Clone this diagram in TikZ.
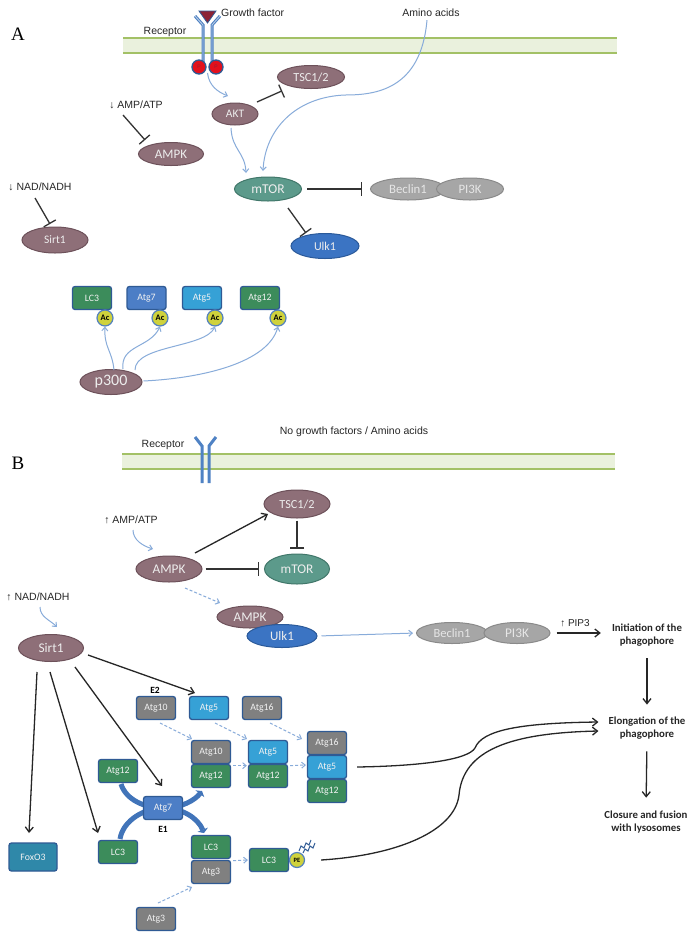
\documentclass[tikz,border=0pt]{standalone}
\usepackage{fontspec}
\setmainfont{Carlito}
\newfontfamily\arial{Liberation Sans}
\newfontfamily\tnr{Liberation Serif}
\usetikzlibrary{shapes.geometric,arrows.meta,calc}
\pgfdeclarelayer{bg}
\pgfdeclarelayer{paper}
\pgfsetlayers{paper,bg,main}
\newcommand\fsz[1]{\fontsize{#1}{#1}\selectfont}
\definecolor{mauveF}{HTML}{8E6F78}
\definecolor{mauveD}{HTML}{6D515A}
\definecolor{tealF}{HTML}{5C9A8B}
\definecolor{tealD}{HTML}{41776A}
\definecolor{ulkF}{HTML}{3B74C3}
\definecolor{ulkD}{HTML}{2B5A9A}
\definecolor{gyF}{HTML}{A6A6A6}
\definecolor{gyD}{HTML}{8A8A8A}
\definecolor{gyT}{HTML}{E6E6E6}
\definecolor{grn}{HTML}{3C8C5B}
\definecolor{blu}{HTML}{4C7EC6}
\definecolor{lblu}{HTML}{36A1D6}
\definecolor{gry}{HTML}{808080}
\definecolor{fox}{HTML}{2F88A9}
\definecolor{boxD}{HTML}{2F5A94}
\definecolor{acF}{HTML}{CFD23C}
\definecolor{acD}{HTML}{5381BE}
\definecolor{bluel}{HTML}{88ACDA}
\definecolor{thick}{HTML}{4174B9}
\definecolor{memF}{HTML}{EAF1DD}
\definecolor{memL}{HTML}{A3C166}
\definecolor{recC}{HTML}{4F82C4}
\definecolor{gfF}{HTML}{8C2336}
\definecolor{pF}{HTML}{E3101C}
\definecolor{txt}{HTML}{262626}
\begin{document}
\begin{tikzpicture}[x=1pt,y=-1pt,
  ell/.style={ellipse, inner sep=0pt, line width=1pt, text=white!93!black},
  mv/.style={ell, fill=mauveF, draw=mauveD},
  tl/.style={ell, fill=tealF, draw=tealD},
  ul/.style={ell, fill=ulkF, draw=ulkD},
  gy/.style={ell, fill=gyF, draw=gyD, text=gyT},
  bx/.style={rectangle, rounded corners=2.5pt, draw=boxD, line width=1.3pt, minimum width=39pt, minimum height=23pt, inner sep=0pt, text=white!95!black, font=\fsz{9.8}, fill=#1},
  acc/.style={circle, fill=acF, draw=acD, line width=1.2pt, minimum size=16pt, inner sep=0pt, font=\bfseries\fsz{8.5}, text=black},
  lbl/.style={font=\arial\fsz{10.5}, text=txt, inner sep=0pt},
  bl/.style={font=\bfseries\fontsize{10.8}{13}\selectfont, text=txt, align=center, inner sep=0pt},
  el/.style={font=\bfseries\fsz{9.5}, text=black, inner sep=0pt},
  inh/.style={line width=1.3pt, draw=black!80, -{Bar[width=14pt,line width=1.3pt]}},
  act/.style={line width=1.3pt, draw=black!85, -{Straight Barb[length=5pt,width=8pt]}},
  bar/.style={draw=bluel, line width=1pt, -{Straight Barb[length=3.5pt,width=6pt]}},
  dsh/.style={bar, dash pattern=on 3pt off 2pt},
  thk/.style={draw=thick, line width=5pt, -{Triangle[length=3.5pt,width=11pt]}},
  pc/.style={circle, fill=pF, draw=boxD, line width=1.3pt, minimum size=14pt, inner sep=0pt, font=\arial\fsz{5}, text=gfF}
]
\useasboundingbox (0,0) rectangle (693,938);
\begin{pgfonlayer}{paper}
\fill[white] (0,0) rectangle (693,938);
\end{pgfonlayer}

% ================= Panel A =================
\node[font=\tnr\fsz{19}, inner sep=0pt] (labA) at (18,34) {A};
\fill[memF] (123,38) rectangle (617,53);
\draw[memL, line width=1.5pt] (123,38) -- (617,38) (123,53) -- (617,53);
\node[lbl] (recA) at (165,32) {Receptor};
\node[lbl, anchor=west] (gf) at (221,13) {Growth factor};
\node[lbl] (aa) at (431,13) {Amino acids};
% receptor
\draw[recC, line width=3pt] (203,62) -- (203,25) -- (195,16);
\draw[recC, line width=3pt] (212,62) -- (212,25) -- (220,16);
\draw[white!60!recC, line width=0.8pt] (203,62) -- (203,25) -- (195,16);
\draw[white!60!recC, line width=0.8pt] (212,62) -- (212,25) -- (220,16);
\filldraw[fill=gfF, draw=boxD, line width=0.8pt] (199,11) -- (216,11) -- (207.5,23) -- cycle;
\node[pc] (p1) at (199,67) {P};
\node[pc] (p2) at (216,67) {P};

\node[mv, minimum width=46pt, minimum height=22pt, font=\fsz{11.5}] (aktA) at (235,114) {AKT};
\node[mv, minimum width=67pt, minimum height=23pt, font=\fsz{12.3}] (tscA) at (311,77) {TSC1/2};
\node[lbl] (ampLA) at (136,105) {↓ AMP/ATP};
\node[mv, minimum width=65pt, minimum height=23pt, font=\fsz{13}] (ampkA) at (171,154) {AMPK};
\node[lbl] (nadLA) at (40,187) {↓ NAD/NADH};
\node[mv, minimum width=66pt, minimum height=26pt, font=\fsz{11.5}] (sirtA) at (55,240) {Sirt1};
\node[tl, minimum width=67pt, minimum height=24pt, font=\fsz{13.5}] (mtorA) at (268,189) {mTOR};
\node[gy, minimum width=75pt, minimum height=22pt, font=\fsz{12.8}] (becA) at (408,189) {Beclin1};
\node[gy, minimum width=67pt, minimum height=22pt, font=\fsz{12.8}] (pi3kA) at (470,189) {PI3K};
\node[ul, minimum width=68pt, minimum height=25pt, font=\fsz{12}] (ulkA) at (325,246) {Ulk1};

\draw[bar] ($(p1)!0.5!(p2)+(0,6)$) .. controls (209,86) and (218,92) .. ($(aktA)+(-7,-18)$);
\draw[inh, shorten >=2pt] ($(aktA)+(22,-12)$) -- ($(tscA)+(-27,13)$);
\draw[bar] ($(aktA)+(-4,14)$) .. controls (232,150) and (245,152) .. ($(mtorA)+(-22,-16)$);
\draw[bar] ($(aa.south)+(-4,3)$) .. controls (421,90) and (375,95) .. (345,95) .. controls (295,97) and (265,130) .. ($(mtorA)+(-5,-18)$);
\draw[inh] ($(ampLA)+(-13,10)$) -- ($(ampkA)+(-26,-14)$);
\draw[inh] ($(nadLA)+(-5,11)$) -- ($(sirtA)+(-5,-16)$);
\draw[inh, shorten <=5pt, shorten >=8pt] (mtorA.east) -- (becA.west);
\draw[inh] ($(mtorA)+(20,19)$) -- ($(ulkA)+(-19,-13)$);

% lower A
\node[bx=grn] (lc3a) at (92,298) {LC3};
\node[bx=blu] (atg7a) at (146.5,298) {Atg7};
\node[bx=lblu] (atg5a) at (202,298) {Atg5};
\node[bx=grn] (atg12a) at (260,298) {Atg12};
\node[acc] (ac1) at (105,318) {Ac};
\node[acc] (ac2) at (160,318) {Ac};
\node[acc] (ac3) at (215,318) {Ac};
\node[acc] (ac4) at (278,318) {Ac};
\node[mv, minimum width=62pt, minimum height=25pt, font=\fsz{16}] (p300) at (111,382) {p300};
\draw[bar] ($(p300)+(3,-12)$) .. controls (112,350) and (104,348) .. (ac1.south);
\draw[bar] ($(p300)+(12,-13)$) .. controls (120,345) and (150,348) .. (ac2.south);
\draw[bar] ($(p300)+(24,-12)$) .. controls (135,345) and (205,348) .. (ac3.south);
\draw[bar] ($(p300.east)+(1,-1)$) .. controls (205,378) and (268,362) .. (ac4.south);

% ================= Panel B =================
\node[font=\tnr\fsz{19}, inner sep=0pt] (labB) at (18,463) {B};
\fill[memF] (122,454) rectangle (615,469);
\draw[memL, line width=1.5pt] (122,454) -- (615,454) (122,469) -- (615,469);
\node[lbl] (recB) at (163,445) {Receptor};
\node[lbl] (nogf) at (354,432) {No growth factors / Amino acids};
\draw[recC, line width=3pt] (202,483) -- (202,446) -- (195,437);
\draw[recC, line width=3pt] (209,483) -- (209,446) -- (216,437);

\node[lbl] (ampLB) at (131,520) {↑ AMP/ATP};
\node[mv, minimum width=66pt, minimum height=26pt, font=\fsz{13.3}] (ampkB) at (169,569) {AMPK};
\node[mv, minimum width=66pt, minimum height=28pt, font=\fsz{12.3}] (tscB) at (297,504) {TSC1/2};
\node[tl, minimum width=65pt, minimum height=30pt, font=\fsz{13.3}] (mtorB) at (297,569) {mTOR};
\node[mv, minimum width=66pt, minimum height=22pt, font=\fsz{13.3}] (ampk2) at (250,617) {AMPK};
\node[ul, minimum width=70pt, minimum height=23pt, font=\fsz{13}] (ulkB) at (282,636) {Ulk1};
\node[gy, minimum width=71pt, minimum height=21pt, font=\fsz{12.5}] (becB) at (452,633) {Beclin1};
\node[gy, minimum width=66pt, minimum height=21pt, font=\fsz{13.3}] (pi3kB) at (517,633) {PI3K};
\node[lbl, font=\arial\fsz{10}] (pip3) at (575,623) {↑ PIP3};
\node[bl] (init) at (647,635) {Initiation of the\\phagophore};
\node[bl] (elong) at (647,728) {Elongation of the\\phagophore};
\node[bl] (clos) at (646,822) {Closure and fusion\\with lysosomes};

\draw[bar] ($(ampLB)+(2,10)$) .. controls (133,540) and (143,546) .. ($(ampkB)+(-16,-20)$);
\draw[act] ($(ampkB)+(26,-16)$) -- ($(tscB)+(-29,10)$);
\draw[inh, shorten <=2pt, shorten >=5pt] (tscB.south) -- (mtorB.north);
\draw[inh, shorten <=3pt, shorten >=5pt] (ampkB.east) -- (mtorB.west);
\draw[dsh] ($(ampkB)+(16,19)$) -- ($(ampk2)+(-30,-14)$);
\draw[bar, shorten <=4pt, shorten >=3pt] (ulkB.east) -- (becB.west);
\draw[act, shorten <=6pt, shorten >=11pt] (pi3kB.east) -- (init.west |- pi3kB.east);
\draw[act, shorten <=12pt, shorten >=12pt] (init.south) -- (elong.north);
\draw[act, shorten <=12pt, shorten >=13pt] (elong.south) -- (clos.north);

\node[lbl] (nadLB) at (38,597) {↑ NAD/NADH};
\node[mv, minimum width=65pt, minimum height=27pt, font=\fsz{13.3}] (sirtB) at (51,648) {Sirt1};
\draw[bar] ($(nadLB)+(2,10)$) .. controls (40,617) and (50,620) .. ($(sirtB)+(6,-21)$);

% boxes
\node[el] (e2) at (155,690) {E2};
\node[bx=gry] (atg10t) at (156,708) {Atg10};
\node[bx=lblu] (atg5t) at (209,708) {Atg5};
\node[bx=gry] (atg16t) at (262,708) {Atg16};
\node[bx=gry] (s1a) at (211,752) {Atg10};
\node[bx=grn] (s1b) at (211,776) {Atg12};
\node[bx=lblu] (s2a) at (268,752) {Atg5};
\node[bx=grn] (s2b) at (268,776) {Atg12};
\node[bx=gry] (s3a) at (327,743) {Atg16};
\node[bx=lblu] (s3b) at (327,767) {Atg5};
\node[bx=grn] (s3c) at (327,791) {Atg12};
\node[bx=grn] (atg12L) at (118,771) {Atg12};
\node[bx=blu] (atg7b) at (163,808) {Atg7};
\node[el] (e1) at (163,829) {E1};
\node[bx=fox, minimum width=48pt, minimum height=28pt] (foxo) at (33,857) {FoxO3};
\node[bx=grn] (lc3L) at (118,852) {LC3};
\node[bx=grn] (s4a) at (211,847) {LC3};
\node[bx=gry] (s4b) at (211,872) {Atg3};
\node[bx=grn] (lc3pe) at (269,860) {LC3};
\node[acc, minimum size=15pt, font=\bfseries\fsz{6.5}] (pe) at (297,860) {PE};
\node[bx=gry] (atg3b) at (156,919) {Atg3};

\draw[boxD, line width=1pt] (299,851) -- (301,846) -- (304,848) -- (306,843) -- (309,845) -- (311,840);
\draw[boxD, line width=1pt] (303,853) -- (305,849) -- (308,851) -- (310,846) -- (313,848) -- (315,843);

\begin{pgfonlayer}{bg}
\draw[thk] ($(atg12L)+(3,13)$) .. controls (126,800) and (145,808) .. (atg7b.center) .. controls (182,808) and (195,800) .. ($(s1b)+(-9,15)$);
\draw[thk] ($(lc3L)+(2,-13)$) .. controls (123,820) and (145,808) .. (atg7b.center) .. controls (182,808) and (198,818) .. ($(s4a)+(-7,-14)$);
\end{pgfonlayer}

% Sirt1 arrows
\draw[act] ($(sirtB)+(-14,24)$) -- ($(foxo)+(-4,-24)$);
\draw[act] ($(sirtB)+(-1,24)$) -- ($(lc3L)+(-20,-19)$);
\draw[act] ($(sirtB)+(24,19)$) -- ($(atg7b)+(-1,-22)$);
\draw[act] ($(sirtB)+(37,7)$) -- ($(atg5t)+(-14,-15)$);

% dashed arrows
\draw[dsh] ($(atg10t)+(4,15)$) -- ($(s1a)+(-19,-13)$);
\draw[dsh] ($(atg5t)+(6,15)$) -- ($(s2a)+(-21,-13)$);
\draw[dsh] ($(atg16t)+(8,15)$) -- ($(s3a)+(-25,-4)$);
\draw[dsh] ($(s1a.south east)+(2,1.5)$) -- ($(s2a.south west)+(-1,1.5)$);
\draw[dsh] ($(s2a.south east)+(2,1.5)$) -- ($(s3b.west)+(-1,-2)$);
\draw[dsh] ($(s4a.south east)+(2,1.5)$) -- ($(lc3pe.west)+(-1,0)$);
\draw[dsh] ($(atg3b)+(2,-16)$) -- ($(s4b)+(-19,15)$);

% long curves
\draw[line width=1.3pt, black!85, -{Straight Barb[length=5pt,width=8pt]}] ($(s3b.east)+(10,0)$) .. controls (420,766) and (468,760) .. (475,748) .. controls (482,730) and (520,723) .. ($(elong.west)+(-10,-6)$);
\draw[line width=1.3pt, black!85, -{Straight Barb[length=5pt,width=8pt]}] ($(pe.east)+(16,0)$) .. controls (400,855) and (455,830) .. (459,795) .. controls (463,750) and (510,733) .. ($(elong.west)+(-10,3)$);
\end{tikzpicture}
\end{document}
